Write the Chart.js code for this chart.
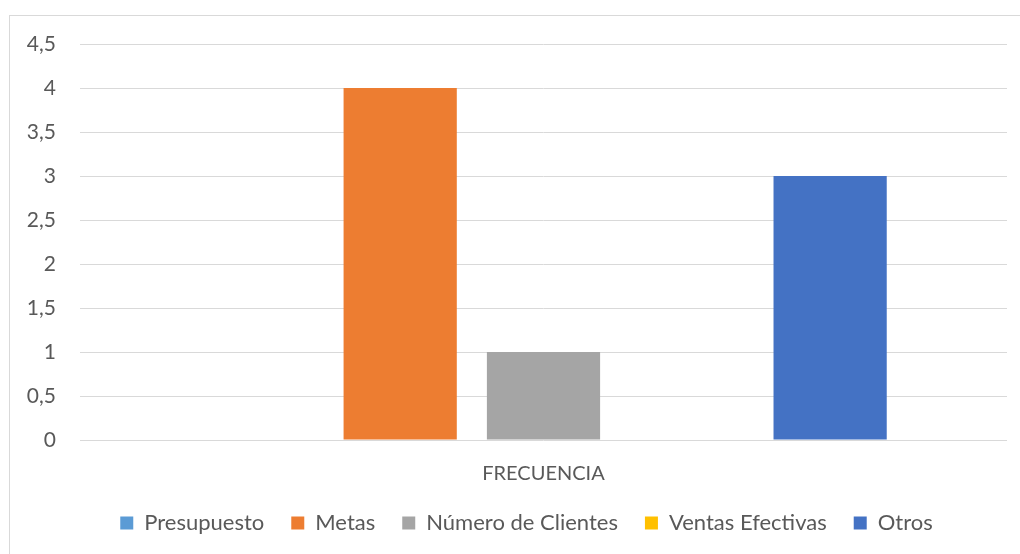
<!DOCTYPE html>
<html><head><meta charset="utf-8">
<script src="https://cdn.jsdelivr.net/npm/chart.js@4/dist/chart.umd.min.js"></script>
<style>
html,body{margin:0;padding:0;background:#fff;overflow:hidden}
#wrap{position:absolute;left:0;top:0;width:1020px;height:554px}
#frame{position:absolute;left:9px;top:15px;width:1030px;height:560px;border:1px solid #d9d9d9;box-sizing:border-box}
canvas{position:absolute;left:0;top:0}
</style></head>
<body><div id="wrap"><div id="frame"></div><canvas id="c" width="1020" height="554"></canvas></div>
<script>
const categories = ["FRECUENCIA"];
const seriesNames = ["Presupuesto", "Metas", "Número de Clientes", "Ventas Efectivas", "Otros"];
const seriesValues = [[0], [4], [1], [0], [3]];
const seriesColors = ["#5B9BD5", "#ED7D31", "#A5A5A5", "#FFC000", "#4472C4"];
const yTicks = [0, 0.5, 1, 1.5, 2, 2.5, 3, 3.5, 4, 4.5];

const FONT = "Lato";
const legendShift = {
  id: 'legendShift',
  afterLayout(chart) {
    const lg = chart.legend;
    if (lg) { lg.left = 46; if (lg.adjustHitBoxes) lg.adjustHitBoxes(); }
  }
};
new Chart(document.getElementById('c'), {
  type: 'bar',
  data: {
    labels: categories,
    datasets: seriesNames.map((n, i) => ({
      label: n, data: seriesValues[i], backgroundColor: seriesColors[i],
      borderWidth: 0, categoryPercentage: 0.773, barPercentage: 0.79
    }))
  },
  plugins: [legendShift],
  options: {
    responsive: false, animation: false, devicePixelRatio: 1,
    layout: { padding: { top: 44, right: 13, bottom: 10, left: 0 } },
    plugins: {
      tooltip: { enabled: false },
      legend: {
        position: 'bottom',
        labels: { font: { family: FONT, size: 22 }, color: '#595959', boxWidth: 13, boxHeight: 13, padding: 27 }
      }
    },
    scales: {
      x: {
        grid: { display: false },
        border: { display: false },
        ticks: { font: { family: FONT, size: 20 }, color: '#595959', padding: 14 },
        afterFit: s => { s.height = 45; }
      },
      y: {
        min: 0, max: 4.5,
        afterBuildTicks: s => { s.ticks = yTicks.map(v => ({ value: v })); },
        afterFit: s => { s.width = 80; },
        grid: { color: '#d9d9d9', lineWidth: 1, drawTicks: false },
        border: { display: false },
        ticks: {
          font: { family: FONT, size: 21 }, color: '#595959', padding: 24,
          callback: v => String(v).replace('.', ',')
        }
      }
    }
  }
});
</script></body></html>
